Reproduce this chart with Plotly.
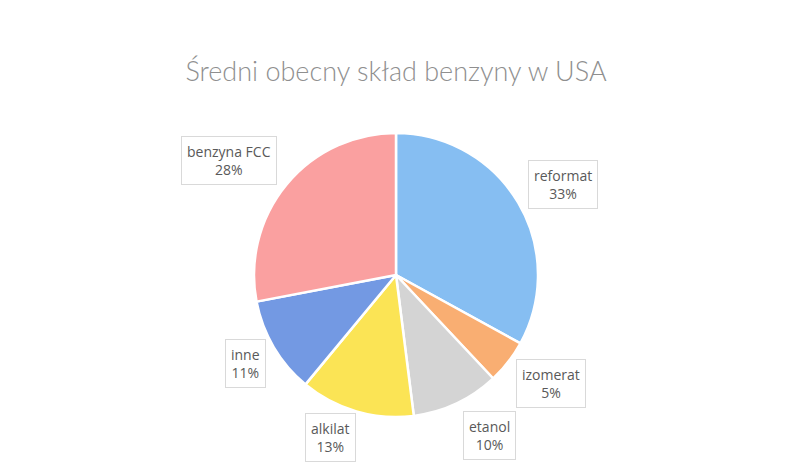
import plotly.graph_objects as go

categories = ["reformat", "izomerat", "etanol", "alkilat", "inne", "benzyna FCC"]
values = [33, 5, 10, 13, 11, 28]
colors = ["#86BEF2", "#F9AE72", "#D4D4D4", "#FBE455", "#7399E3", "#FAA0A0"]
title_text = "Średni obecny skład benzyny w USA"

W, H = 792, 462
CX, CY, R = 396, 275, 142  # pie centre / radius in pixels
# data-label box centres (pixels from top-left), one per category
label_pos = [(563, 185), (551, 383), (489, 435), (330, 437), (245, 363), (229, 160)]

fig = go.Figure()
fig.add_trace(go.Pie(
    labels=categories,
    values=values,
    sort=False,
    direction="clockwise",
    rotation=0,
    marker=dict(colors=colors, line=dict(color="white", width=2.5)),
    textinfo="none",
    hoverinfo="label+percent",
    showlegend=False,
    domain=dict(x=[(CX - R) / W, (CX + R) / W], y=[1 - (CY + R) / H, 1 - (CY - R) / H]),
))

total = sum(values)
annotations = []
for cat, v, (px, py) in zip(categories, values, label_pos):
    annotations.append(dict(
        x=px / W, y=1 - py / H, xref="paper", yref="paper",
        xanchor="center", yanchor="middle",
        text=f"{cat}<br>{round(v / total * 100)}%",
        showarrow=False, align="center",
        font=dict(family="Open Sans", size=14, color="#595959"),
        bgcolor="white", bordercolor="#D9D9D9", borderwidth=1, borderpad=5,
    ))

fig.update_layout(
    width=W, height=H,
    margin=dict(l=0, r=0, t=0, b=0),
    paper_bgcolor="white",
    title=dict(text=title_text, x=0.5, xanchor="center", y=1 - 72 / H, yanchor="middle",
               font=dict(family="Lato", size=27, weight=300, color="#8F8F8F")),
    annotations=annotations,
)

fig.write_html("out.html")
